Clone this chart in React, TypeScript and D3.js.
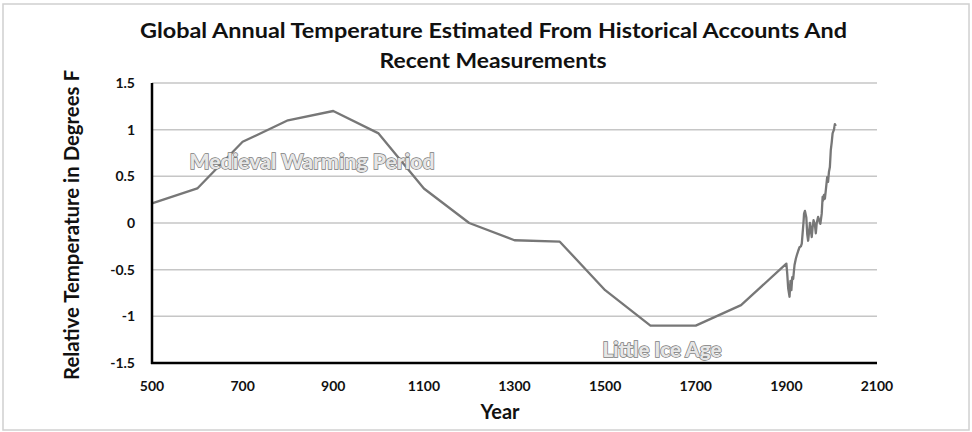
import React from "react";
import * as d3 from "d3";

const histYears = [500, 600, 700, 800, 900, 1000, 1100, 1200, 1300, 1400, 1500, 1600, 1700, 1800, 1900];
const histTemps = [0.21, 0.37, 0.87, 1.1, 1.2, 0.96, 0.37, 0.0, -0.185, -0.2, -0.72, -1.1, -1.1, -0.88, -0.435];

const recentYears = [1900, 1902, 1904, 1907, 1909, 1911, 1913, 1915, 1918, 1921, 1924, 1926, 1929, 1932, 1934, 1936, 1938, 1939, 1941, 1944, 1946, 1948, 1950, 1952, 1954, 1956, 1958, 1960, 1963, 1965, 1967, 1970, 1973, 1975, 1978, 1980, 1981, 1983, 1985, 1987, 1990, 1992, 1994, 1996, 1998, 2000, 2002, 2005, 2007, 2009];
const recentTemps = [-0.435, -0.55, -0.7, -0.79, -0.62, -0.72, -0.58, -0.6, -0.45, -0.38, -0.33, -0.3, -0.26, -0.25, -0.22, -0.1, 0.02, 0.1, 0.13, 0.06, -0.12, -0.19, -0.1, 0.0, -0.08, -0.15, -0.04, 0.03, -0.02, -0.11, 0.0, 0.065, 0.02, -0.01, 0.1, 0.28, 0.24, 0.3, 0.26, 0.35, 0.49, 0.44, 0.55, 0.6, 0.78, 0.86, 0.96, 1.0, 1.06, 1.04];

const xTicks = [500, 700, 900, 1100, 1300, 1500, 1700, 1900, 2100];
const yTicks = [-1.5, -1, -0.5, 0, 0.5, 1, 1.5];

const titleLines = ["Global Annual Temperature Estimated From Historical Accounts And", "Recent Measurements"];

export default function App() {
  const W = 972, H = 432;
  const x = d3.scaleLinear().domain([500, 2100]).range([152, 877]);
  const y = d3.scaleLinear().domain([-1.5, 1.5]).range([363, 83]);
  const line = d3.line<[number, number]>().x(d => x(d[0])).y(d => y(d[1]));
  const hist: [number, number][] = histYears.map((yr, i) => [yr, histTemps[i]]);
  const rec: [number, number][] = recentYears.map((yr, i) => [yr, recentTemps[i]]);
  const all = hist.concat(rec.slice(1));
  const font = "Lato, 'Open Sans', sans-serif";
  return (
    <svg width={W} height={H} style={{ position: "absolute", left: 0, top: 0, background: "#fff" }} fontFamily={font}>
      <rect x={3} y={4} width={966} height={426} fill="#fff" stroke="#d0d0d0" strokeWidth={1.5} />
      <text x={493.5} y={38} textAnchor="middle" fontSize={21} fontWeight="bold" fill="#111" textLength={707} lengthAdjust="spacingAndGlyphs">{titleLines[0]}</text>
      <text x={493} y={68} textAnchor="middle" fontSize={21} fontWeight="bold" fill="#111" textLength={227} lengthAdjust="spacingAndGlyphs">{titleLines[1]}</text>
      {yTicks.map(v => (
        <g key={v}>
          {v !== -1.5 && <line x1={x(500)} x2={x(2100)} y1={y(v)} y2={y(v)} stroke="#c6c6c6" strokeWidth={1.5} />}
          <text x={135} y={y(v)} dy="0.35em" textAnchor="end" fontSize={14} fontWeight="bold" fill="#111">{v}</text>
        </g>
      ))}
      {xTicks.map(v => (
        <text key={v} x={x(v)} y={391} textAnchor="middle" fontSize={14} fontWeight="bold" fill="#111">{v}</text>
      ))}
      <path d={line(all) || ""} fill="none" stroke="#777" strokeWidth={2.3} strokeLinejoin="round" />
      <line x1={x(500)} x2={x(500)} y1={y(1.5)} y2={y(-1.5) + 1} stroke="#000" strokeWidth={2.5} />
      <line x1={x(500) - 1} x2={x(2100)} y1={y(-1.5)} y2={y(-1.5)} stroke="#000" strokeWidth={2.5} />
      <text x={500} y={419} textAnchor="middle" fontSize={20} fontWeight="bold" fill="#111">Year</text>
      <text transform="translate(79,225) rotate(-90)" textAnchor="middle" fontSize={20} fontWeight="bold" fill="#111" textLength={310} lengthAdjust="spacingAndGlyphs">Relative Temperature in Degrees F</text>
      <text x={312} y={169} textAnchor="middle" fontSize={21} fontWeight={900} fill="#e6e6e6" stroke="#7a7a7a" strokeWidth={1.4} paintOrder="stroke" textLength={245} lengthAdjust="spacingAndGlyphs">Medieval Warming Period</text>
      <text x={662} y={357} textAnchor="middle" fontSize={20} fontWeight={900} fill="#e6e6e6" stroke="#7a7a7a" strokeWidth={1.4} paintOrder="stroke" textLength={119} lengthAdjust="spacingAndGlyphs">Little Ice Age</text>
    </svg>
  );
}
